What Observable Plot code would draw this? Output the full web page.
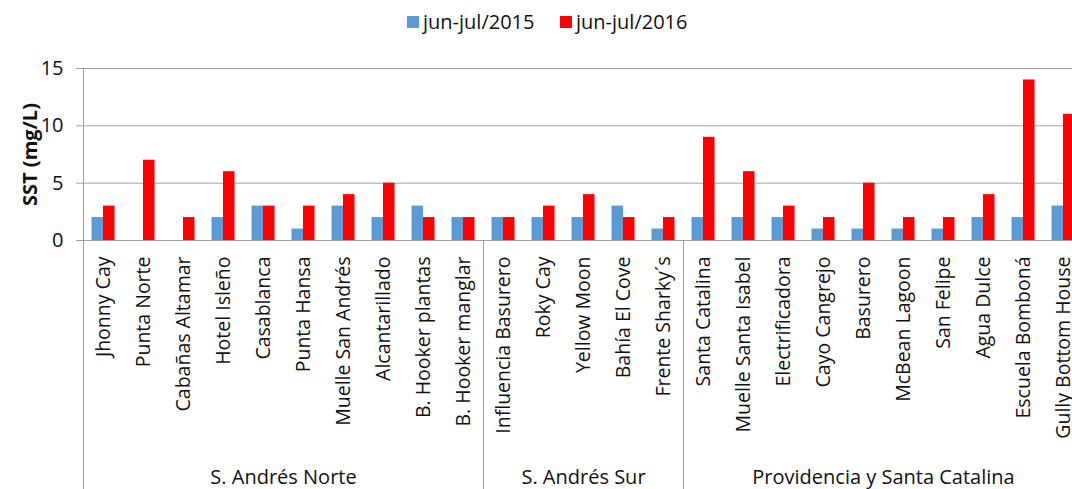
<!DOCTYPE html>
<html>
<head>
<meta charset="utf-8">
<script src="https://cdn.jsdelivr.net/npm/d3@7"></script>
<script src="https://cdn.jsdelivr.net/npm/@observablehq/plot@0.6"></script>
<style>
  html, body { margin: 0; padding: 0; background: #fff; overflow: hidden; width: 1072px; height: 489px; }
  #wrap { position: relative; width: 1072px; height: 489px; overflow: hidden; font-family: "Open Sans", sans-serif; }
  #legend { position: relative; height: 45px; }
  .lg { position: absolute; top: 8px; display: flex; align-items: center; font-size: 20px; color: #111; line-height: 28px; }
  .sw { width: 12px; height: 12px; margin-right: 4px; }
  #chart svg { max-width: none !important; width: 1100px; height: 444px; display: block; }
  g[aria-label="y-axis label"] text { font-weight: bold; }
</style>
</head>
<body>
<div id="wrap">
  <div id="legend"></div>
  <div id="chart"></div>
</div>
<script>
const categories = [
  "Jhonny Cay", "Punta Norte", "Cabañas Altamar", "Hotel Isleño", "Casablanca",
  "Punta Hansa", "Muelle San Andrés", "Alcantarillado", "B. Hooker plantas", "B. Hooker manglar",
  "Influencia Basurero", "Roky Cay", "Yellow Moon", "Bahía El Cove", "Frente Sharky´s",
  "Santa Catalina", "Muelle Santa Isabel", "Electrificadora", "Cayo Cangrejo", "Basurero",
  "McBean Lagoon", "San Felipe", "Agua Dulce", "Escuela Bomboná", "Gully Bottom House"
];
const values2015 = [2, 0, 0, 2, 3, 1, 3, 2, 3, 2, 2, 2, 2, 3, 1, 2, 2, 2, 1, 1, 1, 1, 2, 2, 3];
const values2016 = [3, 7, 2, 6, 3, 3, 4, 5, 2, 2, 2, 3, 4, 2, 2, 9, 6, 3, 2, 5, 2, 2, 4, 14, 11];
const seriesNames = ["jun-jul/2015", "jun-jul/2016"];
const seriesColors = ["#5b9bd5", "#ff0000"];
const groupNames = ["S. Andrés Norte", "S. Andrés Sur", "Providencia y Santa Catalina"];
const groupSizes = [10, 5, 10];
const yTicks = [0, 5, 10, 15];
const yTitle = "SST (mg/L)";

// legend
const legend = document.getElementById("legend");
const legendLeft = [407, 560];
seriesNames.forEach((name, i) => {
  const item = document.createElement("div");
  item.className = "lg";
  item.style.left = legendLeft[i] + "px";
  item.innerHTML = `<div class="sw" style="background:${seriesColors[i]}"></div><span>${name}</span>`;
  legend.appendChild(item);
});

// tables
const rows = categories.map((c, i) => ({cat: c, i, v15: values2015[i], v16: values2016[i]}));
let start = 0;
const groups = groupNames.map((g, k) => {
  const o = {name: g, start, end: start + groupSizes[k]};
  start += groupSizes[k];
  return o;
});
const boundaries = groups.map(g => g.end);

const chart = Plot.plot({
  width: 1100,
  height: 444,
  marginLeft: 83,
  marginRight: 17,
  marginTop: 23,
  marginBottom: 249,
  style: {fontSize: "20px", fontFamily: "'Open Sans', sans-serif", color: "#111", background: "#fff"},
  x: {domain: [0, categories.length], axis: null},
  y: {domain: [0, 15]},
  marks: [
    Plot.ruleY(yTicks, {stroke: "#a0a0a0", strokeWidth: 1}),
    Plot.rectY(rows, {x1: d => d.i, x2: d => d.i + 1, y: "v15", fill: seriesColors[0], insetLeft: 8.5, insetRight: 20}),
    Plot.rectY(rows, {x1: d => d.i, x2: d => d.i + 1, y: "v16", fill: seriesColors[1], insetLeft: 20, insetRight: 8.5}),
    Plot.ruleX([0], {stroke: "#a0a0a0", insetBottom: -249}),
    Plot.ruleX(boundaries, {x: d => d, y1: 0, stroke: "#a0a0a0", insetBottom: -249}),
    Plot.axisY({ticks: yTicks, tickSize: 7, tickPadding: 13, stroke: "#a0a0a0", fill: "#111", fontSize: 20,
      label: yTitle, labelAnchor: "center", labelOffset: 61, labelArrow: "none"}),
    Plot.text(rows, {x: d => d.i + 0.5, y: () => 0, text: "cat", rotate: -90, textAnchor: "end", dy: 16, fill: "#111", fontSize: 19.5}),
    Plot.text(groups, {x: d => (d.start + d.end) / 2, text: "name", frameAnchor: "bottom", lineAnchor: "bottom", dy: 243, fill: "#111", fontSize: 20})
  ]
});
document.getElementById("chart").appendChild(chart);
</script>
</body>
</html>
